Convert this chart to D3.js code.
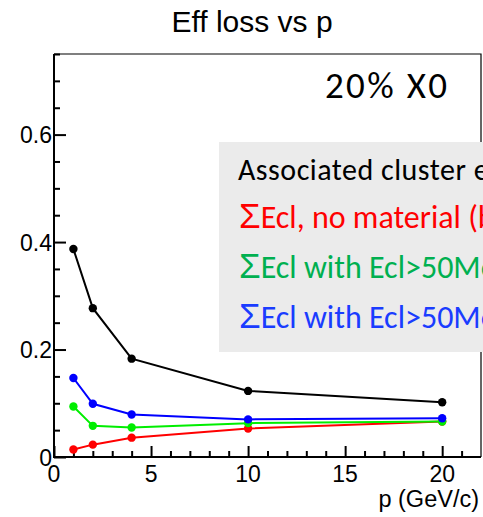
<!DOCTYPE html>
<html>
<head>
<meta charset="utf-8">
<script src="https://cdn.jsdelivr.net/npm/d3@7"></script>
<style>
  html, body { margin: 0; padding: 0; background: #fff; overflow: hidden; }
  svg { display: block; }
</style>
</head>
<body>
<svg id="chart" width="483" height="517"></svg>
<script>
// Momentum points (GeV/c) and efficiency loss for each selection
const pValues = [1, 2, 4, 10, 20];
const lossTotal = [0.387, 0.277, 0.183, 0.123, 0.102];
const lossNoMaterial = [0.014, 0.023, 0.036, 0.053, 0.066];
const lossEcl50a = [0.094, 0.058, 0.055, 0.063, 0.066];
const lossEcl50b = [0.147, 0.099, 0.079, 0.070, 0.072];

const xTickValues = [0, 5, 10, 15, 20];
const yTickValues = [0, 0.2, 0.4, 0.6];

const legendHeader = "Associated cluster energy";
const legendLabels = [
  "Ecl, no material (baseline)",
  "Ecl with Ecl>50MeV, 20% X0",
  "Ecl with Ecl>50MeV, 20% X0, 1 cm gap"
];

const svg = d3.select("#chart");
const frameL = 54, frameR = 481, frameT = 54, frameB = 457;

const x = d3.scaleLinear().domain([0, 22]).range([frameL, frameR]);
const y = d3.scaleLinear().domain([0, 0.75]).range([frameB, frameT]);

const axisFont = "'Liberation Sans', Arial, Helvetica, sans-serif";
const calibri = "Carlito, Calibri, Lato, sans-serif";

// Title
svg.append("text")
  .attr("x", 252).attr("y", 32)
  .attr("text-anchor", "middle")
  .attr("font-family", axisFont).attr("font-size", 30)
  .text("Eff loss vs p");

// Frame: top and right edges
svg.append("path")
  .attr("d", `M${frameL},${frameT}H${frameR}V${frameB}`)
  .attr("fill", "none").attr("stroke", "#000").attr("stroke-width", 1.2);

// Y axis with major and minor ticks pointing into the frame
const yAxis = d3.axisRight(y)
  .tickValues(d3.range(0, 0.751, 0.05))
  .tickSize(0).tickFormat("");
const gy = svg.append("g").attr("transform", `translate(${frameL},0)`).call(yAxis);
gy.select(".domain").remove();
gy.selectAll(".tick line")
  .attr("x2", d => (Math.abs(d / 0.2 - Math.round(d / 0.2)) < 1e-6 ? 12 : 6))
  .attr("stroke", "#000").attr("stroke-width", 2);

// X axis with major and minor ticks
const xAxis = d3.axisTop(x)
  .tickValues(d3.range(0, 22, 1))
  .tickSize(0).tickFormat("");
const gx = svg.append("g").attr("transform", `translate(0,${frameB})`).call(xAxis);
gx.select(".domain").remove();
gx.selectAll(".tick line")
  .attr("y2", d => (d % 5 === 0 ? -11 : -6))
  .attr("stroke", "#000").attr("stroke-width", 2);

// Axis lines
svg.append("path")
  .attr("d", `M${frameL},${frameT}V${frameB}H${frameR}`)
  .attr("fill", "none").attr("stroke", "#000").attr("stroke-width", 2);

// Tick labels
svg.append("g").selectAll("text").data(yTickValues).join("text")
  .attr("x", 52).attr("y", d => y(d) + (d === 0 ? 9 : 8.5))
  .attr("text-anchor", "end")
  .attr("font-family", axisFont).attr("font-size", 23)
  .text(d => d3.format("")(d));

svg.append("g").selectAll("text").data(xTickValues).join("text")
  .attr("x", d => x(d)).attr("y", 482)
  .attr("text-anchor", "middle")
  .attr("font-family", axisFont).attr("font-size", 23)
  .text(d => d);

svg.append("text")
  .attr("x", 479).attr("y", 507)
  .attr("text-anchor", "end")
  .attr("font-family", axisFont).attr("font-size", 23.5)
  .text("p (GeV/c)");

// Series
const series = [
  { values: lossNoMaterial, color: "#ff0000" },
  { values: lossEcl50a, color: "#00ee00" },
  { values: lossEcl50b, color: "#0000ff" },
  { values: lossTotal, color: "#000000" }
];
const line = d3.line().x(d => x(d[0])).y(d => y(d[1]));
series.forEach(s => {
  const pts = pValues.map((p, i) => [p, s.values[i]]);
  svg.append("path").datum(pts)
    .attr("d", line).attr("fill", "none")
    .attr("stroke", s.color).attr("stroke-width", 2);
  svg.append("g").selectAll("circle").data(pts).join("circle")
    .attr("cx", d => x(d[0])).attr("cy", d => y(d[1]))
    .attr("r", 4.2).attr("fill", s.color);
});

// Annotation
svg.append("text")
  .attr("x", 325).attr("y", 98)
  .attr("font-family", calibri).attr("font-size", 37)
  .attr("textLength", 122).attr("lengthAdjust", "spacing")
  .text("20% X0");

// Legend box
const lg = svg.append("g");
lg.append("rect")
  .attr("x", 219).attr("y", 142).attr("width", 300).attr("height", 210)
  .attr("fill", "#ebebeb");
lg.append("text")
  .attr("x", 238).attr("y", 180)
  .attr("font-family", calibri).attr("font-size", 30)
  .attr("letter-spacing", 0.5)
  .attr("fill", "#000")
  .text(legendHeader);
const legendColors = ["#ff0000", "#00b050", "#1a3cff"];
const legendBaselines = [228, 278, 328];
legendLabels.forEach((lab, i) => {
  const t = lg.append("text")
    .attr("x", 239).attr("y", legendBaselines[i])
    .attr("fill", legendColors[i]);
  t.append("tspan")
    .attr("font-family", axisFont).attr("font-size", 35)
    .text("Σ");
  t.append("tspan")
    .attr("font-family", calibri).attr("font-size", 32)
    .text(lab);
});
</script>
</body>
</html>
